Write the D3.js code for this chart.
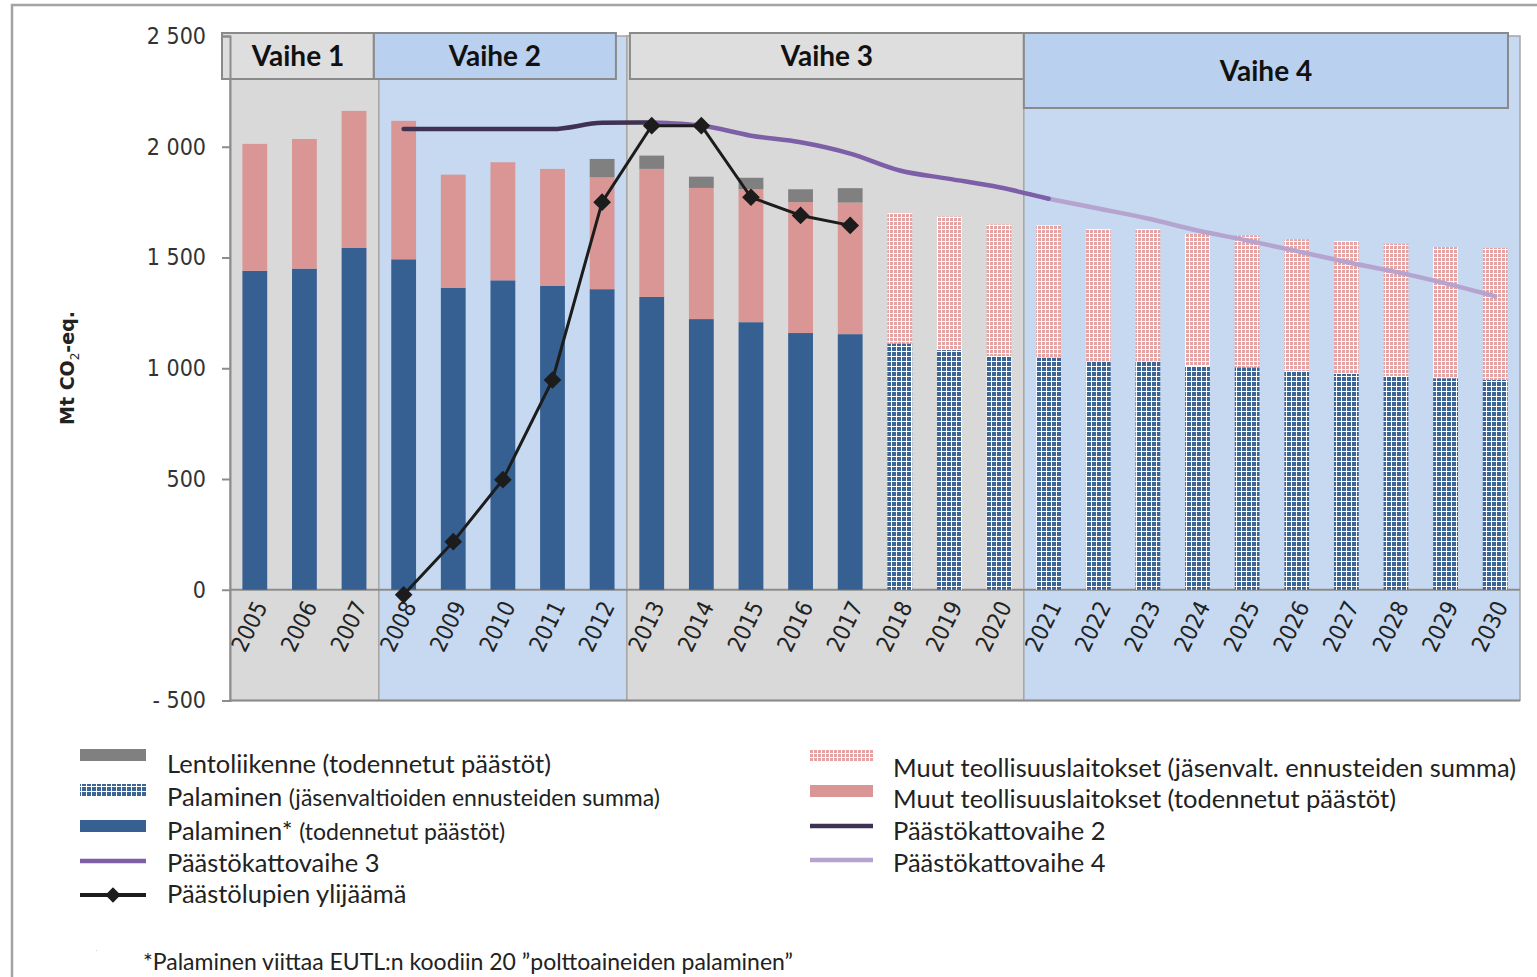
<!DOCTYPE html>
<html>
<head>
<meta charset="utf-8">
<script src="https://cdn.jsdelivr.net/npm/d3@7"></script>
<style>
  body { margin: 0; background: #fff; }
  svg { display: block; }
</style>
</head>
<body>
<div id="chart"></div>
<script>
// vuodet (kategoriat)
var years = [2005, 2006, 2007, 2008, 2009, 2010, 2011, 2012, 2013, 2014, 2015, 2016, 2017,
  2018, 2019, 2020, 2021, 2022, 2023, 2024, 2025, 2026, 2027, 2028, 2029, 2030]

// todennetut päästöt 2005-2017
var verifiedYears = [2005, 2006, 2007, 2008, 2009, 2010, 2011, 2012, 2013, 2014, 2015, 2016, 2017]
var combustionVerified = [1440, 1450, 1543, 1492, 1364, 1397, 1373, 1357, 1322, 1222, 1208, 1159, 1154]
var industryVerified = [573, 585, 619, 625, 510, 533, 527, 505, 578, 592, 600, 591, 594]
var aviationVerified = [0, 0, 0, 0, 0, 0, 0, 83, 60, 51, 52, 58, 65]

// jäsenvaltioiden ennusteet 2018-2030
var projectedYears = [2018, 2019, 2020, 2021, 2022, 2023, 2024, 2025, 2026, 2027, 2028, 2029, 2030]
var combustionProjected = [1112, 1082, 1057, 1048, 1030, 1030, 1010, 1004, 989, 974, 965, 955, 947]
var industryProjected = [590, 603, 592, 597, 598, 598, 597, 596, 593, 600, 597, 592, 596]

// päästökatot
var cap2Years = [2008, 2009, 2010, 2011, 2012, 2013]
var cap2 = [2080, 2080, 2080, 2080, 2108, 2110]
var cap3Years = [2013, 2014, 2015, 2016, 2017, 2018, 2019, 2020, 2021]
var cap3 = [2110, 2096, 2050, 2020, 1969, 1893, 1855, 1817, 1765]
var cap4Years = [2021, 2022, 2023, 2024, 2025, 2026, 2027, 2028, 2029, 2030]
var cap4 = [1765, 1721, 1676, 1622, 1577, 1529, 1480, 1435, 1383, 1325]

// päästölupien ylijäämä
var surplusYears = [2008, 2009, 2010, 2011, 2012, 2013, 2014, 2015, 2016, 2017]
var surplus = [-23, 217, 497, 947, 1750, 2095, 2095, 1772, 1690, 1645]

// kaupankäyntikaudet
var phaseNames = ['Vaihe 1', 'Vaihe 2', 'Vaihe 3', 'Vaihe 4']
var phaseFirst = [2005, 2008, 2013, 2021]
var phaseLast = [2007, 2012, 2020, 2030]

var yTicks = [-500, 0, 500, 1000, 1500, 2000, 2500]

var colors = {
  grayBg: '#d9d9d9',
  blueBg: '#c6d9f1',
  grayBox: '#dedede',
  blueBox: '#b9d0ef',
  combustion: '#376092',
  industry: '#d99694',
  aviation: '#808080',
  cap2: '#3f3151',
  cap3: '#7d5fa7',
  cap4: '#b5a4cf',
  surplus: '#1c1c1c'
}

var width = 1537
var height = 977
var plot = { left: 230, right: 1520, top: 36, bottom: 700.5 }

var svg = d3.select('#chart').append('svg')
  .attr('width', width)
  .attr('height', height)

// kuviot ennusteille
var defs = svg.append('defs')
function makePattern (id, color, size) {
  var p = defs.append('pattern')
    .attr('id', id)
    .attr('patternUnits', 'userSpaceOnUse')
    .attr('width', size)
    .attr('height', size)
  p.append('rect').attr('width', size).attr('height', size).attr('fill', color)
  p.append('rect').attr('x', 1).attr('width', 1).attr('height', size).attr('fill', '#fff')
  p.append('rect').attr('y', 1).attr('width', size).attr('height', 1).attr('fill', '#fff')
}
makePattern('pat-comb', '#3c6597', 5)
makePattern('pat-ind', '#e6a3a3', 4)

// kehys
svg.append('rect')
  .attr('x', 12).attr('y', 5)
  .attr('width', width + 20).attr('height', height + 20)
  .attr('fill', 'none')
  .attr('stroke', '#a3a3a3')
  .attr('stroke-width', 2.5)

var x = d3.scaleBand()
  .domain(years)
  .range([plot.left, plot.right])
  .paddingInner(0.5)
  .paddingOuter(0.25)

var y = d3.scaleLinear()
  .domain([-500, 2500])
  .range([plot.bottom, plot.top])

var gap = (x.step() - x.bandwidth()) / 2

// vaiheiden taustat
var phases = phaseNames.map(function (name, i) {
  return {
    name: name,
    x0: x(phaseFirst[i]) - gap,
    x1: x(phaseLast[i]) + x.bandwidth() + gap,
    blue: i % 2 === 1
  }
})

svg.append('g').selectAll('rect')
  .data(phases)
  .enter().append('rect')
  .attr('x', function (d) { return d.x0 })
  .attr('y', plot.top)
  .attr('width', function (d) { return d.x1 - d.x0 })
  .attr('height', plot.bottom - plot.top)
  .attr('fill', function (d) { return d.blue ? colors.blueBg : colors.grayBg })
  .attr('stroke', '#a6a6a6')
  .attr('stroke-width', 1.5)

// nollaviiva
svg.append('line')
  .attr('x1', plot.left).attr('x2', plot.right)
  .attr('y1', y(0)).attr('y2', y(0))
  .attr('stroke', '#8c8c8c')
  .attr('stroke-width', 2)

// pinotut pylväät, todennetut
var verifiedRows = verifiedYears.map(function (yr, i) {
  return { year: yr, comb: combustionVerified[i], ind: industryVerified[i], avi: aviationVerified[i] }
})
var stackV = d3.stack().keys(['comb', 'ind', 'avi'])(verifiedRows)
var fillV = { comb: colors.combustion, ind: colors.industry, avi: colors.aviation }

svg.append('g').selectAll('g')
  .data(stackV)
  .enter().append('g')
  .attr('fill', function (s) { return fillV[s.key] })
  .selectAll('rect')
  .data(function (s) { return s })
  .enter().append('rect')
  .attr('x', function (d) { return x(d.data.year) })
  .attr('width', x.bandwidth())
  .attr('y', function (d) { return y(d[1]) })
  .attr('height', function (d) { return y(d[0]) - y(d[1]) })

// pinotut pylväät, ennusteet
var projRows = projectedYears.map(function (yr, i) {
  return { year: yr, comb: combustionProjected[i], ind: industryProjected[i] }
})
var stackP = d3.stack().keys(['comb', 'ind'])(projRows)
var fillP = { comb: 'url(#pat-comb)', ind: 'url(#pat-ind)' }

svg.append('g').selectAll('g')
  .data(stackP)
  .enter().append('g')
  .attr('fill', function (s) { return fillP[s.key] })
  .selectAll('rect')
  .data(function (s) { return s })
  .enter().append('rect')
  .attr('x', function (d) { return x(d.data.year) })
  .attr('width', x.bandwidth())
  .attr('y', function (d) { return y(d[1]) })
  .attr('height', function (d) { return y(d[0]) - y(d[1]) })

// viivat
var cx = function (yr) { return x(yr) + x.bandwidth() / 2 }
function drawLine (yrs, vals, color, w, curve) {
  var pts = yrs.map(function (yr, i) { return [cx(yr), y(vals[i])] })
  svg.append('path')
    .attr('d', d3.line().curve(curve)(pts))
    .attr('fill', 'none')
    .attr('stroke', color)
    .attr('stroke-width', w)
    .attr('stroke-linecap', 'round')
    .attr('stroke-linejoin', 'round')
  return pts
}
drawLine(cap4Years, cap4, colors.cap4, 4.5, d3.curveMonotoneX)
drawLine(cap3Years, cap3, colors.cap3, 4.5, d3.curveMonotoneX)
drawLine(cap2Years, cap2, colors.cap2, 4.5, d3.curveMonotoneX)
var sp = drawLine(surplusYears, surplus, colors.surplus, 3, d3.curveLinear)

var diamond = d3.symbol().type(d3.symbolDiamond2).size(200)
svg.append('g').selectAll('path')
  .data(sp)
  .enter().append('path')
  .attr('transform', function (d) { return 'translate(' + d[0] + ',' + d[1] + ')' })
  .attr('d', diamond)
  .attr('fill', colors.surplus)

// vaiheiden otsikkolaatikot
var boxes = [
  { x0: phases[0].x0 - 8, x1: phases[0].x1 - 5, y0: 33, y1: 79 },
  { x0: phases[0].x1 - 5, x1: phases[1].x1 - 11, y0: 33, y1: 79 },
  { x0: phases[2].x0 + 3, x1: phases[2].x1, y0: 33, y1: 79 },
  { x0: phases[3].x0, x1: phases[3].x1 - 12, y0: 33, y1: 108 }
]
var boxG = svg.append('g')
boxes.forEach(function (b, i) {
  boxG.append('rect')
    .attr('x', b.x0).attr('y', b.y0)
    .attr('width', b.x1 - b.x0).attr('height', b.y1 - b.y0)
    .attr('fill', phases[i].blue ? colors.blueBox : colors.grayBox)
    .attr('stroke', '#8a8a8a')
    .attr('stroke-width', 2)
  boxG.append('text')
    .attr('x', (b.x0 + b.x1) / 2)
    .attr('y', (b.y0 + b.y1) / 2)
    .attr('dy', '0.37em')
    .attr('text-anchor', 'middle')
    .style('font-family', 'Lato, "Open Sans", sans-serif')
    .style('font-weight', 'bold')
    .style('font-size', '28px')
    .style('fill', '#111')
    .text(phases[i].name)
})

// y-akseli
var fmt = function (d) {
  if (d < 0) return '- ' + Math.abs(d)
  if (d >= 1000) return Math.floor(d / 1000) + ' ' + d3.format('03d')(d % 1000)
  return d
}
var yAxis = svg.append('g')
  .attr('transform', 'translate(' + plot.left + ',0)')
  .call(d3.axisLeft(y).tickValues(yTicks).tickSize(8).tickPadding(16).tickFormat(fmt))
yAxis.select('.domain').attr('stroke', '#8c8c8c').attr('stroke-width', 2)
yAxis.selectAll('.tick line').attr('stroke', '#8c8c8c').attr('stroke-width', 2)
yAxis.selectAll('.tick text')
  .style('font-family', '"DejaVu Sans Condensed", sans-serif')
  .style('font-size', '23px')
  .style('fill', '#333')

// alareuna
svg.append('line')
  .attr('x1', plot.left).attr('x2', plot.right)
  .attr('y1', plot.bottom).attr('y2', plot.bottom)
  .attr('stroke', '#8c8c8c')
  .attr('stroke-width', 2)

// x-otsikot
svg.append('g').selectAll('text')
  .data(years)
  .enter().append('text')
  .attr('transform', function (d) { return 'translate(' + (cx(d) + 6) + ',' + (y(0) + 13) + ')rotate(-64)' })
  .attr('text-anchor', 'end')
  .attr('dy', '0.35em')
  .style('font-family', '"DejaVu Sans Condensed", sans-serif')
  .style('font-size', '23px')
  .style('fill', '#222')
  .text(function (d) { return d })

// y-akselin otsikko
var yTitle = svg.append('text')
  .attr('transform', 'translate(74,368)rotate(-90)')
  .attr('text-anchor', 'middle')
  .style('font-family', '"DejaVu Sans", sans-serif')
  .style('font-weight', 'bold')
  .style('font-size', '19px')
  .style('fill', '#222')
yTitle.append('tspan').text('Mt CO')
yTitle.append('tspan').attr('dy', 5).style('font-size', '12px').style('font-weight', 'normal').text('2')
yTitle.append('tspan').attr('dy', -5).text('-eq.')

// selite
var legendFont = 'Lato, "Open Sans", sans-serif'
var legendLeft = [
  { type: 'rect', fill: colors.aviation, main: 'Lentoliikenne (todennetut päästöt)', sub: '' },
  { type: 'rect', fill: 'url(#pat-comb)', main: 'Palaminen ', sub: '(jäsenvaltioiden ennusteiden summa)' },
  { type: 'rect', fill: colors.combustion, main: 'Palaminen* ', sub: '(todennetut päästöt)' },
  { type: 'line', fill: colors.cap3, main: 'Päästökattovaihe 3', sub: '' },
  { type: 'marker', fill: colors.surplus, main: 'Päästölupien ylijäämä', sub: '' }
]
var legendRight = [
  { type: 'rect', fill: 'url(#pat-ind)', main: 'Muut teollisuuslaitokset (jäsenvalt. ennusteiden summa)', sub: '' },
  { type: 'rect', fill: colors.industry, main: 'Muut teollisuuslaitokset (todennetut päästöt)', sub: '' },
  { type: 'line', fill: colors.cap2, main: 'Päästökattovaihe 2', sub: '' },
  { type: 'line', fill: colors.cap4, main: 'Päästökattovaihe 4', sub: '' }
]

function drawLegend (items, sx, sw, tx, rowY, swY) {
  items.forEach(function (d, i) {
    var g = svg.append('g')
    var sy = swY[i]
    if (d.type === 'rect') {
      g.append('rect').attr('x', sx).attr('y', sy - 6).attr('width', sw).attr('height', 12).attr('fill', d.fill)
    } else {
      g.append('line').attr('x1', sx).attr('x2', sx + sw).attr('y1', sy).attr('y2', sy)
        .attr('stroke', d.fill).attr('stroke-width', d.type === 'marker' ? 4 : 4.5)
      if (d.type === 'marker') {
        g.append('path').attr('transform', 'translate(' + (sx + sw / 2) + ',' + sy + ')')
          .attr('d', d3.symbol().type(d3.symbolDiamond2).size(150)).attr('fill', d.fill)
      }
    }
    var t = g.append('text')
      .attr('x', tx).attr('y', rowY[i])
      .style('font-family', legendFont)
      .style('font-size', '25.5px')
      .style('fill', '#222')
    t.append('tspan').text(d.main)
    if (d.sub) t.append('tspan').style('font-size', '23px').text(d.sub)
  })
}
drawLegend(legendLeft, 80, 66, 167, [773, 806, 840, 872, 903], [755, 790, 826, 861, 895])
drawLegend(legendRight, 810, 63, 893, [777, 808, 840, 872], [755, 791, 826, 860])

// alaviite
svg.append('text')
  .attr('x', 95).attr('y', 956)
  .style('font-size', '8px')
  .style('fill', '#999')
  .text('ˈ')
svg.append('text')
  .attr('x', 143).attr('y', 970)
  .style('font-family', legendFont)
  .style('font-size', '23px')
  .style('fill', '#222')
  .text('*Palaminen viittaa EUTL:n koodiin 20 ”polttoaineiden palaminen”')
</script>
</body>
</html>
